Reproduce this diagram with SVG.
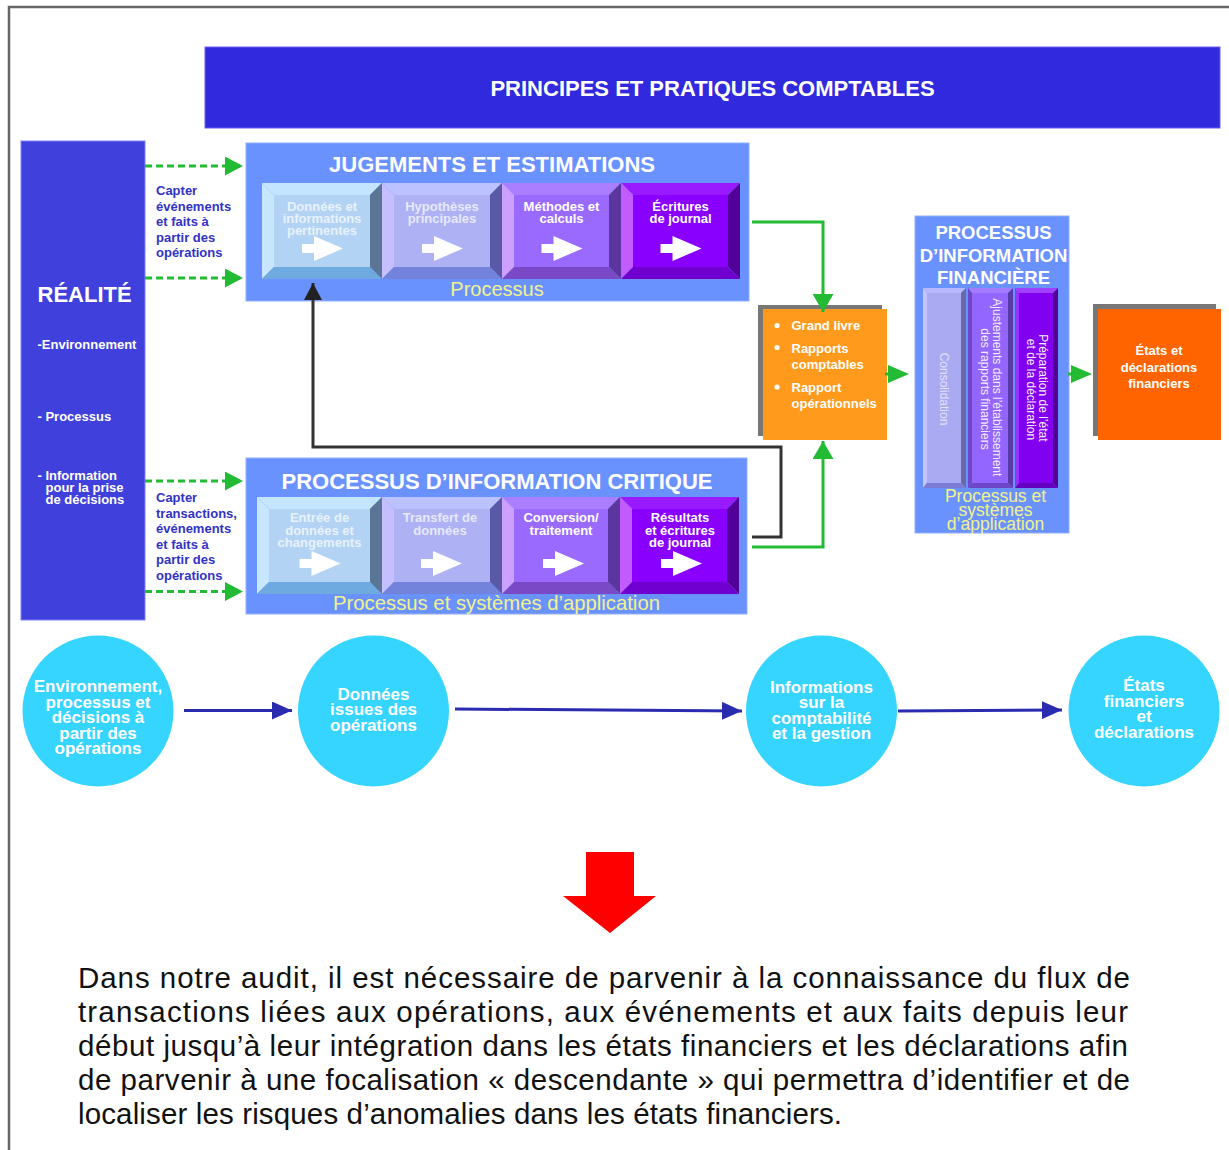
<svg xmlns="http://www.w3.org/2000/svg" width="1229" height="1150" viewBox="0 0 1229 1150">
<style>
text{font-family:"Liberation Sans",Arial,Helvetica,sans-serif}
.ttl{font-size:22px;font-weight:bold;fill:#fff;text-anchor:middle}
.bx{font-size:13px;font-weight:bold;text-anchor:middle}
.fade{fill:#fff;fill-opacity:.72}
.solid{fill:#fff}
.yel{fill:#F2F28A;text-anchor:middle}
.cap{font-size:13px;font-weight:bold;fill:#3232C6}
.real{font-size:13px;font-weight:bold;fill:#fff}
.circ{fill:#35D5FF}
.ct{font-size:17px;font-weight:bold;fill:#fff;text-anchor:middle}
.vt{font-size:12px;text-anchor:middle}
.panel{fill:#6A92FF;stroke:#90B0FF;stroke-width:1}
.g-dash{stroke:#22BB33;stroke-width:3;fill:none;stroke-dasharray:7 4}
.g-line{stroke:#22BB33;stroke-width:3;fill:none}
.k-line{stroke:#333;stroke-width:3;fill:none}
.b-line{stroke:#2B2BB0;stroke-width:3;fill:none}
.para{font-size:29.5px;fill:#111}
/* bevel palettes: t top, l left, r right, m bottom, f face */
.p1 .t{fill:#C3E5FF}.p1 .l{fill:#C8E6FF}.p1 .r{fill:#5B7596}.p1 .m{fill:#6EAADF}.p1 .f{fill:#B3D3F5}
.p2 .t{fill:#BCC2FF}.p2 .l{fill:#C5BEFF}.p2 .r{fill:#5959A6}.p2 .m{fill:#7382DA}.p2 .f{fill:#AEB2F5}
.p3 .t{fill:#AB7EFF}.p3 .l{fill:#CDA0FF}.p3 .r{fill:#5B369E}.p3 .m{fill:#7A4AC6}.p3 .f{fill:#9A6AFF}
.p4 .t{fill:#9A1AFF}.p4 .l{fill:#C25CFF}.p4 .r{fill:#52009A}.p4 .m{fill:#7000CF}.p4 .f{fill:#8A00FF}
.q1 .t{fill:#B8B8FF}.q1 .l{fill:#C4C4FF}.q1 .r{fill:#6A6AA8}.q1 .m{fill:#7C7CD6}.q1 .f{fill:#A9AAF2}
.q2 .t{fill:#A47CFF}.q2 .l{fill:#6E48C8}.q2 .r{fill:#5A3AA8}.q2 .m{fill:#6E46C8}.q2 .f{fill:#9366FF}
.q3 .t{fill:#A040FF}.q3 .l{fill:#9A30FF}.q3 .r{fill:#520090}.q3 .m{fill:#6400C0}.q3 .f{fill:#8200F0}
</style>
<defs>
  <marker id="gh" markerUnits="userSpaceOnUse" markerWidth="18" markerHeight="19" viewBox="0 0 18 19" refX="18" refY="9.5" orient="auto">
    <path d="M0,0 L18,9.5 L0,19z" fill="#22BB33"/>
  </marker>
  <marker id="gh2" markerUnits="userSpaceOnUse" markerWidth="18" markerHeight="21" viewBox="0 0 18 21" refX="18" refY="10.5" orient="auto">
    <path d="M0,0 L18,10.5 L0,21z" fill="#22BB33"/>
  </marker>
  <marker id="kh" markerUnits="userSpaceOnUse" markerWidth="17" markerHeight="18" viewBox="0 0 17 18" refX="17" refY="9" orient="auto">
    <path d="M0,0 L17,9 L0,18z" fill="#222"/>
  </marker>
  <marker id="bh" markerUnits="userSpaceOnUse" markerWidth="20" markerHeight="18" viewBox="0 0 20 18" refX="20" refY="9" orient="auto">
    <path d="M0,0 L20,9 L0,18z" fill="#2B2BB0"/>
  </marker>
  <path id="arr" d="M-20,-4.5 h12 v-8 l29,12.5 l-29,12.5 v-8 h-12 z"/>
</defs>

<rect width="1229" height="1150" fill="#fff"/>
<!-- page frame -->
<path d="M9,1150 V7 H1229" fill="none" stroke="#666" stroke-width="2.5"/>

<!-- banner -->
<g id="principes">
  <rect x="205" y="47" width="1015" height="81" fill="#3029DD" stroke="#6A60F0" stroke-width="1"/>
  <text x="712.5" y="96" class="ttl">PRINCIPES ET PRATIQUES COMPTABLES</text>
</g>

<!-- reality column -->
<g id="realite">
  <rect x="21" y="141" width="124" height="479" fill="#4040DC" stroke="#8080FF" stroke-width="1"/>
  <text x="37.5" y="302" style="font-size:22px;font-weight:bold;fill:#fff">RÉALITÉ</text>
  <text x="37.5" y="349" class="real">-Environnement</text>
  <text x="37.5" y="421" class="real">- Processus</text>
  <text x="37.5" y="480" class="real">- Information</text>
  <text x="45.5" y="492" class="real">pour la prise</text>
  <text x="45.5" y="503.5" class="real">de décisions</text>
</g>

<!-- capture labels -->
<g id="capter-haut">
  <text class="cap" x="156" y="195">Capter</text>
  <text class="cap" x="156" y="210.5">événements</text>
  <text class="cap" x="156" y="226">et faits à</text>
  <text class="cap" x="156" y="241.5">partir des</text>
  <text class="cap" x="156" y="257">opérations</text>
</g>
<g id="capter-bas">
  <text class="cap" x="156" y="502">Capter</text>
  <text class="cap" x="156" y="517.5">transactions,</text>
  <text class="cap" x="156" y="533">événements</text>
  <text class="cap" x="156" y="548.5">et faits à</text>
  <text class="cap" x="156" y="564">partir des</text>
  <text class="cap" x="156" y="579.5">opérations</text>
</g>

<!-- judgements and estimates -->
<g id="jugements">
  <rect x="246" y="143" width="503" height="158" class="panel"/>
  <text x="492" y="172" class="ttl">JUGEMENTS ET ESTIMATIONS</text>
  <g id="je-donnees" class="p1">
    <polygon class="t" points="262,183 382,183 370,195 274,195"/>
    <polygon class="l" points="262,183 274,195 274,267 262,279"/>
    <polygon class="r" points="382,183 382,279 370,267 370,195"/>
    <polygon class="m" points="262,279 274,267 370,267 382,279"/>
    <rect class="f" x="274" y="195" width="96" height="72"/>
    <text class="bx fade" x="322" y="211">Données et</text>
    <text class="bx fade" x="322" y="223">informations</text>
    <text class="bx fade" x="322" y="235">pertinentes</text>
    <use href="#arr" x="322" y="248.5" fill="#fff"/>
  </g>
  <g id="je-hypotheses" class="p2">
    <polygon class="t" points="382,183 502,183 490,195 394,195"/>
    <polygon class="l" points="382,183 394,195 394,267 382,279"/>
    <polygon class="r" points="502,183 502,279 490,267 490,195"/>
    <polygon class="m" points="382,279 394,267 490,267 502,279"/>
    <rect class="f" x="394" y="195" width="96" height="72"/>
    <text class="bx fade" x="442" y="211">Hypothèses</text>
    <text class="bx fade" x="442" y="223">principales</text>
    <use href="#arr" x="442" y="248.5" fill="#fff"/>
  </g>
  <g id="je-methodes" class="p3">
    <polygon class="t" points="502,183 621,183 609,195 514,195"/>
    <polygon class="l" points="502,183 514,195 514,267 502,279"/>
    <polygon class="r" points="621,183 621,279 609,267 609,195"/>
    <polygon class="m" points="502,279 514,267 609,267 621,279"/>
    <rect class="f" x="514" y="195" width="95" height="72"/>
    <text class="bx solid" x="561.5" y="211">Méthodes et</text>
    <text class="bx solid" x="561.5" y="223">calculs</text>
    <use href="#arr" x="561.5" y="248.5" fill="#fff"/>
  </g>
  <g id="je-ecritures" class="p4">
    <polygon class="t" points="621,183 740,183 728,195 633,195"/>
    <polygon class="l" points="621,183 633,195 633,267 621,279"/>
    <polygon class="r" points="740,183 740,279 728,267 728,195"/>
    <polygon class="m" points="621,279 633,267 728,267 740,279"/>
    <rect class="f" x="633" y="195" width="95" height="72"/>
    <text class="bx solid" x="680.5" y="211">Écritures</text>
    <text class="bx solid" x="680.5" y="223">de journal</text>
    <use href="#arr" x="680.5" y="248.5" fill="#fff"/>
  </g>
  <text x="497" y="296" class="yel" style="font-size:20px">Processus</text>
</g>

<!-- critical information process -->
<g id="critique">
  <rect x="246" y="458" width="501" height="156" class="panel"/>
  <text x="497" y="489" class="ttl">PROCESSUS D’INFORMATION CRITIQUE</text>
  <g id="pc-entree" class="p1">
    <polygon class="t" points="257,497 382,497 370,509 269,509"/>
    <polygon class="l" points="257,497 269,509 269,582 257,594"/>
    <polygon class="r" points="382,497 382,594 370,582 370,509"/>
    <polygon class="m" points="257,594 269,582 370,582 382,594"/>
    <rect class="f" x="269" y="509" width="101" height="73"/>
    <text class="bx fade" x="319.5" y="522">Entrée de</text>
    <text class="bx fade" x="319.5" y="534.5">données et</text>
    <text class="bx fade" x="319.5" y="547">changements</text>
    <use href="#arr" x="319.5" y="563.5" fill="#fff"/>
  </g>
  <g id="pc-transfert" class="p2">
    <polygon class="t" points="382,497 502,497 490,509 394,509"/>
    <polygon class="l" points="382,497 394,509 394,582 382,594"/>
    <polygon class="r" points="502,497 502,594 490,582 490,509"/>
    <polygon class="m" points="382,594 394,582 490,582 502,594"/>
    <rect class="f" x="394" y="509" width="96" height="73"/>
    <text class="bx fade" x="440" y="522">Transfert de</text>
    <text class="bx fade" x="440" y="534.5">données</text>
    <use href="#arr" x="441" y="563.5" fill="#fff"/>
  </g>
  <g id="pc-conversion" class="p3">
    <polygon class="t" points="502,497 620,497 608,509 514,509"/>
    <polygon class="l" points="502,497 514,509 514,582 502,594"/>
    <polygon class="r" points="620,497 620,594 608,582 608,509"/>
    <polygon class="m" points="502,594 514,582 608,582 620,594"/>
    <rect class="f" x="514" y="509" width="94" height="73"/>
    <text class="bx solid" x="561" y="522">Conversion/</text>
    <text class="bx solid" x="561" y="534.5">traitement</text>
    <use href="#arr" x="563" y="563.5" fill="#fff"/>
  </g>
  <g id="pc-resultats" class="p4">
    <polygon class="t" points="620,497 739,497 727,509 632,509"/>
    <polygon class="l" points="620,497 632,509 632,582 620,594"/>
    <polygon class="r" points="739,497 739,594 727,582 727,509"/>
    <polygon class="m" points="620,594 632,582 727,582 739,594"/>
    <rect class="f" x="632" y="509" width="95" height="73"/>
    <text class="bx solid" x="680" y="522">Résultats</text>
    <text class="bx solid" x="680" y="534.5">et écritures</text>
    <text class="bx solid" x="680" y="547">de journal</text>
    <use href="#arr" x="681" y="563.5" fill="#fff"/>
  </g>
  <text x="496.5" y="609.5" class="yel" style="font-size:20.3px">Processus et systèmes d’application</text>
</g>

<!-- ledgers and reports -->
<g id="grand-livre">
  <rect x="758" y="305" width="124" height="131" fill="#777"/>
  <rect x="763" y="309" width="124" height="131" fill="#FF9A1C"/>
  <circle cx="777" cy="325.5" r="2.6" fill="#fff"/>
  <circle cx="777" cy="347.5" r="2.6" fill="#fff"/>
  <circle cx="777" cy="387" r="2.6" fill="#fff"/>
  <text class="real" x="791.5" y="330">Grand livre</text>
  <text class="real" x="791.5" y="353">Rapports</text>
  <text class="real" x="791.5" y="369">comptables</text>
  <text class="real" x="791.5" y="392">Rapport</text>
  <text class="real" x="791.5" y="407.5">opérationnels</text>
</g>

<!-- financial reporting process -->
<g id="info-financiere">
  <rect x="915" y="216" width="154" height="317" class="panel"/>
  <text x="993.5" y="239" class="ttl" style="font-size:18.5px">PROCESSUS</text>
  <text x="993.5" y="261.5" class="ttl" style="font-size:18.5px">D’INFORMATION</text>
  <text x="993.5" y="284" class="ttl" style="font-size:18.5px">FINANCIÈRE</text>
  <g id="pif-consolidation" class="q1">
    <polygon class="t" points="923,288 966,288 961,293 927,293"/>
    <polygon class="l" points="923,288 927,293 927,483 923,488"/>
    <polygon class="r" points="966,288 966,488 961,483 961,293"/>
    <polygon class="m" points="923,488 927,483 961,483 966,488"/>
    <rect class="f" x="927" y="293" width="34" height="190"/>
    <text class="vt" transform="translate(940,389) rotate(90)" fill="#E2E2FF">Consolidation</text>
  </g>
  <g id="pif-ajustements" class="q2">
    <polygon class="t" points="968,288 1013,288 1008,293 972,293"/>
    <polygon class="l" points="968,288 972,293 972,483 968,488"/>
    <polygon class="r" points="1013,288 1013,488 1008,483 1008,293"/>
    <polygon class="m" points="968,488 972,483 1008,483 1013,488"/>
    <rect class="f" x="972" y="293" width="36" height="190"/>
    <text class="vt" transform="translate(992.5,389) rotate(90)" fill="#F2ECFF">
      <tspan x="0" y="0">Ajustements dans l’établissement</tspan>
      <tspan x="0" y="12">des rapports financiers</tspan>
    </text>
  </g>
  <g id="pif-preparation" class="q3">
    <polygon class="t" points="1015,288 1058,288 1053,293 1019,293"/>
    <polygon class="l" points="1015,288 1019,293 1019,483 1015,488"/>
    <polygon class="r" points="1058,288 1058,488 1053,483 1053,293"/>
    <polygon class="m" points="1015,488 1019,483 1053,483 1058,488"/>
    <rect class="f" x="1019" y="293" width="34" height="190"/>
    <text class="vt" transform="translate(1038.5,389.5) rotate(90)" fill="#F6EEFF">
      <tspan x="0" y="0">Préparation de l’état</tspan>
      <tspan x="0" y="12">et de la déclaration</tspan>
    </text>
  </g>
  <text class="yel" x="995.5" y="502" style="font-size:17.5px">Processus et</text>
  <text class="yel" x="995.5" y="516" style="font-size:17.5px">systèmes</text>
  <text class="yel" x="995.5" y="529.5" style="font-size:17.5px">d’application</text>
</g>

<!-- financial statements -->
<g id="etats">
  <rect x="1093" y="304" width="123" height="132" fill="#777"/>
  <rect x="1098" y="309" width="123" height="131" fill="#FF6400"/>
  <text class="real" x="1159" y="355" text-anchor="middle">États et</text>
  <text class="real" x="1159" y="371.5" text-anchor="middle">déclarations</text>
  <text class="real" x="1159" y="388" text-anchor="middle">financiers</text>
</g>

<!-- flow circles -->
<g id="c-environnement">
  <circle class="circ" cx="98" cy="711" r="75.5"/>
  <text class="ct" x="98" y="692">Environnement,</text>
  <text class="ct" x="98" y="707.5">processus et</text>
  <text class="ct" x="98" y="723">décisions à</text>
  <text class="ct" x="98" y="738.5">partir des</text>
  <text class="ct" x="98" y="754">opérations</text>
</g>
<g id="c-donnees">
  <circle class="circ" cx="373.5" cy="711" r="75.5"/>
  <text class="ct" x="373.5" y="699.5">Données</text>
  <text class="ct" x="373.5" y="715">issues des</text>
  <text class="ct" x="373.5" y="730.5">opérations</text>
</g>
<g id="c-informations">
  <circle class="circ" cx="821.5" cy="711" r="75.5"/>
  <text class="ct" x="821.5" y="692.5">Informations</text>
  <text class="ct" x="821.5" y="708">sur la</text>
  <text class="ct" x="821.5" y="723.5">comptabilité</text>
  <text class="ct" x="821.5" y="739">et la gestion</text>
</g>
<g id="c-etats">
  <circle class="circ" cx="1144" cy="711" r="75.5"/>
  <text class="ct" x="1144" y="691">États</text>
  <text class="ct" x="1144" y="706.5">financiers</text>
  <text class="ct" x="1144" y="722">et</text>
  <text class="ct" x="1144" y="738">déclarations</text>
</g>

<!-- connectors -->
<g id="connectors">
  <line class="g-dash" x1="145" y1="166" x2="243" y2="166" marker-end="url(#gh)"/>
  <line class="g-dash" x1="145" y1="278" x2="243" y2="278" marker-end="url(#gh)"/>
  <line class="g-dash" x1="145" y1="481" x2="243" y2="481" marker-end="url(#gh)"/>
  <line class="g-dash" x1="145" y1="591.5" x2="243" y2="591.5" marker-end="url(#gh)"/>
  <polyline class="k-line" points="752,537 781,537 781,447 313,447 313,283" marker-end="url(#kh)"/>
  <polyline class="g-line" points="752,222 823,222 823,312" marker-end="url(#gh2)"/>
  <polyline class="g-line" points="752,547 823,547 823,441" marker-end="url(#gh2)"/>
  <polygon points="888,365 909,374 888,383" fill="#22BB33"/>
  <rect x="885" y="372.5" width="4" height="3" fill="#22BB33"/>
  <polygon points="1071,365 1092,374 1071,383" fill="#22BB33"/>
  <rect x="1068" y="372.5" width="4" height="3" fill="#22BB33"/>
  <line class="b-line" x1="184" y1="710.5" x2="292" y2="710.5" marker-end="url(#bh)"/>
  <line class="b-line" x1="455" y1="709" x2="742" y2="711" marker-end="url(#bh)"/>
  <line class="b-line" x1="898" y1="711" x2="1062" y2="710" marker-end="url(#bh)"/>
</g>

<!-- downward arrow -->
<polygon id="fleche-bas" points="586,852 634,852 634,896 656,896 610,933 563,896 586,896" fill="#FF0000"/>

<!-- conclusion paragraph -->
<g id="conclusion">
  <text class="para" x="78" y="988" textLength="1052" lengthAdjust="spacing">Dans notre audit, il est nécessaire de parvenir à la connaissance du flux de</text>
  <text class="para" x="78" y="1022" textLength="1050" lengthAdjust="spacing">transactions liées aux opérations, aux événements et aux faits depuis leur</text>
  <text class="para" x="78" y="1056" textLength="1050" lengthAdjust="spacing">début jusqu’à leur intégration dans les états financiers et les déclarations afin</text>
  <text class="para" x="78" y="1090" textLength="1052" lengthAdjust="spacing">de parvenir à une focalisation « descendante » qui permettra d’identifier et de</text>
  <text class="para" x="78" y="1124" textLength="764" lengthAdjust="spacing">localiser les risques d’anomalies dans les états financiers.</text>
</g>
</svg>
